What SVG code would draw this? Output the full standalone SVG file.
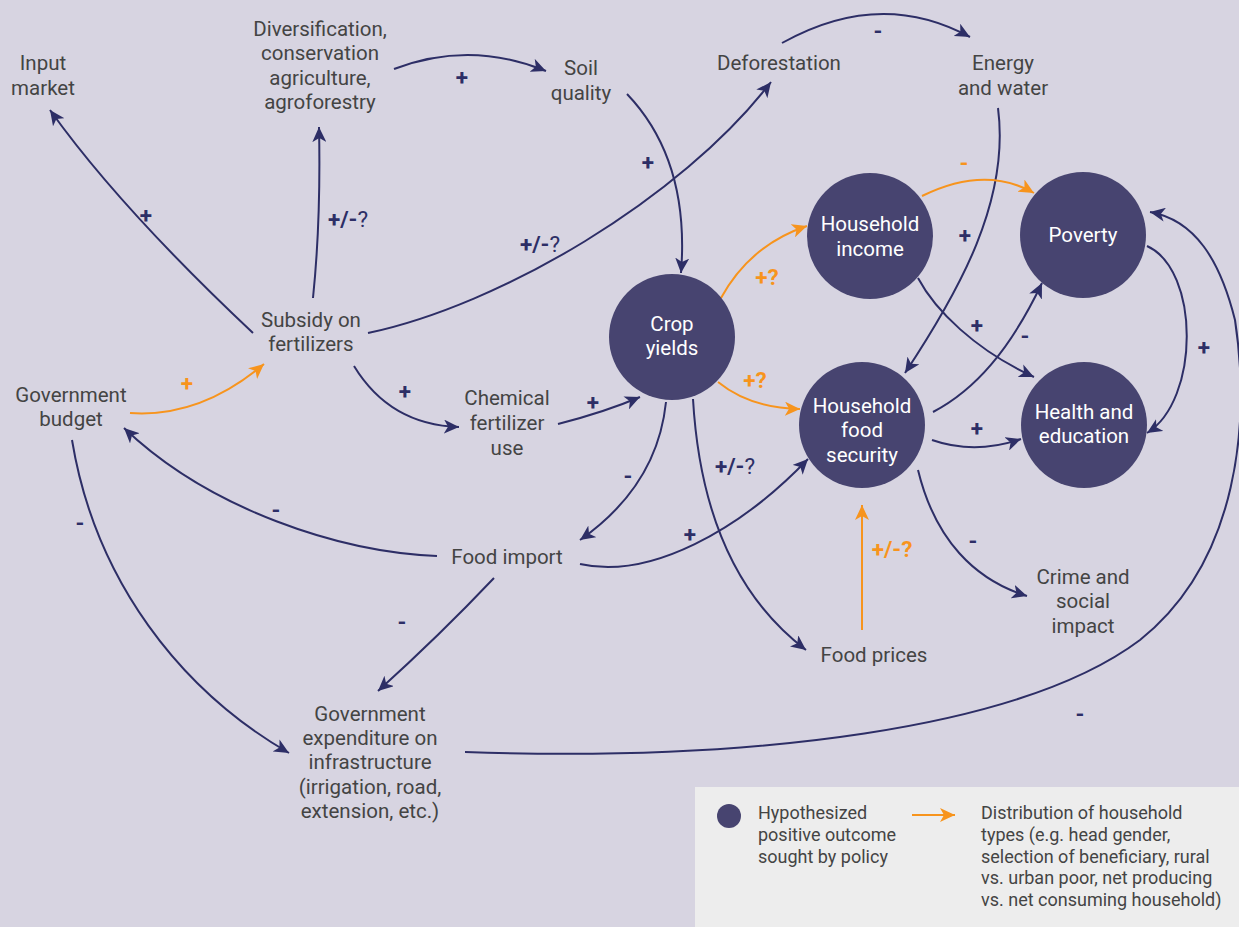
<svg xmlns="http://www.w3.org/2000/svg" width="1239" height="927" viewBox="0 0 1239 927">
<style>
.bg{fill:#d7d4e1}
.t{font-family:Roboto,"Liberation Sans",sans-serif;font-size:20.5px;fill:#444;text-anchor:middle}
.w{font-family:Roboto,"Liberation Sans",sans-serif;font-size:20.5px;fill:#fff;text-anchor:middle}
.c{fill:#474470}
.e{fill:none;stroke:#2d2e66;stroke-width:2}
.o{fill:none;stroke:#f7941d;stroke-width:2}
.s{font-family:Roboto,"Liberation Sans",sans-serif;font-size:22.5px;font-weight:700;fill:#2d2e66;text-anchor:middle}
.so{font-family:Roboto,"Liberation Sans",sans-serif;font-size:22.5px;font-weight:700;fill:#f7941d;text-anchor:middle}
.q{font-weight:400}
.l{font-family:Roboto,"Liberation Sans",sans-serif;font-size:18px;fill:#444}
</style>
<defs>
<marker id="an" markerUnits="userSpaceOnUse" markerWidth="16" markerHeight="14" refX="15" refY="7" orient="auto">
<path d="M0,0 L15,7 L0,14 L4,7 z" fill="#2d2e66"/>
</marker>
<marker id="ao" markerUnits="userSpaceOnUse" markerWidth="16" markerHeight="14" refX="15" refY="7" orient="auto">
<path d="M0,0 L15,7 L0,14 L4,7 z" fill="#f7941d"/>
</marker>
</defs>
<rect class="bg" x="0" y="0" width="1239" height="927"/>

<g id="connectors">
<path class="e" d="M253,333 Q120,208 50,110" marker-end="url(#an)"/>
<path class="e" d="M313,298 Q321,220 319,127" marker-end="url(#an)"/>
<path class="e" d="M394,69 Q470,40 546,71" marker-end="url(#an)"/>
<path class="e" d="M627,94 Q690,160 681,273" marker-end="url(#an)"/>
<path class="e" d="M368,333 C500,305 680,200 771,82" marker-end="url(#an)"/>
<path class="e" d="M782,43 Q880,-12 970,37" marker-end="url(#an)"/>
<path class="e" d="M998,108 C1010,200 960,290 905,373" marker-end="url(#an)"/>
<path class="o" d="M922,196 Q985,165 1034,193" marker-end="url(#ao)"/>
<path class="o" d="M721,298 Q750,245 807,226" marker-end="url(#ao)"/>
<path class="o" d="M718,382 Q750,408 800,409" marker-end="url(#ao)"/>
<path class="o" d="M130,413 Q200,418 264,364" marker-end="url(#ao)"/>
<path class="e" d="M354,366 Q390,425 459,427" marker-end="url(#an)"/>
<path class="e" d="M558,424 Q605,412 640,397" marker-end="url(#an)"/>
<path class="e" d="M437,556 C340,552 210,510 124,428" marker-end="url(#an)"/>
<path class="e" d="M72,440 C95,580 180,690 289,753" marker-end="url(#an)"/>
<path class="e" d="M494,578 Q440,635 378,691" marker-end="url(#an)"/>
<path class="e" d="M666,402 C660,460 630,505 580,540" marker-end="url(#an)"/>
<path class="e" d="M580,564 C650,580 740,530 808,459" marker-end="url(#an)"/>
<path class="e" d="M693,399 C700,520 740,600 806,650" marker-end="url(#an)"/>
<path class="o" d="M862,630 L862,505" marker-end="url(#ao)"/>
<path class="e" d="M918,470 C935,540 975,580 1027,596" marker-end="url(#an)"/>
<path class="e" d="M932,440 Q975,455 1021,439" marker-end="url(#an)"/>
<path class="e" d="M933,412 C975,390 1010,350 1042,283" marker-end="url(#an)"/>
<path class="e" d="M918,278 C935,310 975,350 1034,377" marker-end="url(#an)"/>
<path class="e" d="M1147,246 C1200,270 1200,400 1147,433" marker-end="url(#an)"/>
<path class="e" d="M465,752 C750,762 1020,730 1140,640 C1240,560 1250,420 1235,320 C1220,260 1195,220 1150,212" marker-end="url(#an)"/>
</g>

<g id="signs">
<text class="s" x="462" y="85">+</text>
<text class="s" x="878" y="39">-</text>
<text class="s" x="146" y="223">+</text>
<text class="s" x="348" y="227">+/-<tspan class="q">?</tspan></text>
<text class="s" x="648" y="170">+</text>
<text class="s" x="540" y="252">+/-<tspan class="q">?</tspan></text>
<text class="s" x="965" y="243">+</text>
<text class="so" x="964" y="171">-</text>
<text class="so" x="767" y="285">+?</text>
<text class="so" x="755" y="388">+?</text>
<text class="so" x="187" y="391">+</text>
<text class="s" x="405" y="399">+</text>
<text class="s" x="593" y="410">+</text>
<text class="s" x="977" y="333">+</text>
<text class="s" x="1025" y="344">-</text>
<text class="s" x="1204" y="355">+</text>
<text class="s" x="977" y="436">+</text>
<text class="s" x="628" y="484">-</text>
<text class="s" x="735" y="474">+/-<tspan class="q">?</tspan></text>
<text class="s" x="276" y="518">-</text>
<text class="s" x="690" y="542">+</text>
<text class="so" x="892" y="557">+/-?</text>
<text class="s" x="973" y="549">-</text>
<text class="s" x="80" y="531">-</text>
<text class="s" x="402" y="630">-</text>
<text class="s" x="1080" y="722">-</text>
</g>

<g id="input-market"><text class="t" x="43" y="70">Input</text><text class="t" x="43" y="95">market</text></g>
<g id="diversification"><text class="t" x="320" y="36">Diversification,</text><text class="t" x="320" y="60">conservation</text><text class="t" x="320" y="85">agriculture,</text><text class="t" x="320" y="109">agroforestry</text></g>
<g id="soil-quality"><text class="t" x="581" y="75">Soil</text><text class="t" x="581" y="100">quality</text></g>
<g id="deforestation"><text class="t" x="779" y="70">Deforestation</text></g>
<g id="energy-water"><text class="t" x="1003" y="70">Energy</text><text class="t" x="1003" y="95">and water</text></g>
<g id="subsidy"><text class="t" x="311" y="327">Subsidy on</text><text class="t" x="311" y="351">fertilizers</text></g>
<g id="gov-budget"><text class="t" x="71" y="402">Government</text><text class="t" x="71" y="426">budget</text></g>
<g id="chemical"><text class="t" x="507" y="405">Chemical</text><text class="t" x="507" y="430">fertilizer</text><text class="t" x="507" y="455">use</text></g>
<g id="food-import"><text class="t" x="507" y="564">Food import</text></g>
<g id="food-prices"><text class="t" x="874" y="662">Food prices</text></g>
<g id="crime"><text class="t" x="1083" y="584">Crime and</text><text class="t" x="1083" y="608">social</text><text class="t" x="1083" y="633">impact</text></g>
<g id="gov-expenditure"><text class="t" x="370" y="721">Government</text><text class="t" x="370" y="745">expenditure on</text><text class="t" x="370" y="769">infrastructure</text><text class="t" x="370" y="794">(irrigation, road,</text><text class="t" x="370" y="818">extension, etc.)</text></g>

<g id="crop-yields"><circle class="c" cx="672" cy="337" r="63"/><text class="w" x="672" y="331">Crop</text><text class="w" x="672" y="355">yields</text></g>
<g id="household-income"><circle class="c" cx="870" cy="236" r="63"/><text class="w" x="870" y="231">Household</text><text class="w" x="870" y="256">income</text></g>
<g id="poverty"><circle class="c" cx="1083" cy="235" r="63"/><text class="w" x="1083" y="242">Poverty</text></g>
<g id="household-food-security"><circle class="c" cx="862" cy="425" r="63"/><text class="w" x="862" y="413">Household</text><text class="w" x="862" y="437">food</text><text class="w" x="862" y="462">security</text></g>
<g id="health-education"><circle class="c" cx="1084" cy="425" r="63"/><text class="w" x="1084" y="419">Health and</text><text class="w" x="1084" y="443">education</text></g>

<g id="legend">
<rect x="695" y="787" width="544" height="140" fill="#ededed"/>
<circle class="c" cx="729" cy="816" r="12"/>
<text class="l" x="758" y="819">Hypothesized</text>
<text class="l" x="758" y="841">positive outcome</text>
<text class="l" x="758" y="863">sought by policy</text>
<path class="o" d="M912,815 L955,815" marker-end="url(#ao)"/>
<text class="l" x="981" y="819">Distribution of household</text>
<text class="l" x="981" y="841">types (e.g. head gender,</text>
<text class="l" x="981" y="863">selection of beneficiary, rural</text>
<text class="l" x="981" y="884">vs. urban poor, net producing</text>
<text class="l" x="981" y="906">vs. net consuming household)</text>
</g>
</svg>
